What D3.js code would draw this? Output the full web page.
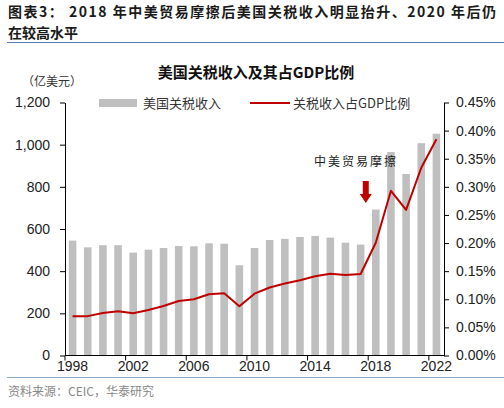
<!DOCTYPE html>
<html>
<head>
<meta charset="utf-8">
<script src="https://cdn.jsdelivr.net/npm/d3@7"></script>
<style>
  body { margin: 0; background: #fff; }
  svg { display: block; font-family: "Liberation Sans", Arial, "Noto Sans CJK SC", sans-serif; }
</style>
</head>
<body>
<svg width="504" height="408"></svg>
<script>
// data
var years = ["1998","1999","2000","2001","2002","2003","2004","2005","2006","2007","2008","2009","2010",
             "2011","2012","2013","2014","2015","2016","2017","2018","2019","2020","2021","2022"];
var tariff = [545, 513, 523, 523, 488, 502, 510, 519, 518, 532, 530, 428, 510,
              548, 553, 562, 567, 559, 535, 526, 692, 965, 861, 1007, 1052];
// share of GDP, in percent
var gdpShare = [0.070, 0.070, 0.0756, 0.0786, 0.075, 0.081, 0.088, 0.097, 0.100, 0.109, 0.1106, 0.0875, 0.110,
                0.121, 0.128, 0.134, 0.141, 0.1455, 0.143, 0.145, 0.2006, 0.293, 0.259, 0.334, 0.3845];
var yearLabels = ["1998","2002","2006","2010","2014","2018","2022"];
var leftTicks = [0, 200, 400, 600, 800, 1000, 1200];
var rightTicks = [0, 0.05, 0.10, 0.15, 0.20, 0.25, 0.30, 0.35, 0.40, 0.45];

var svg = d3.select("svg");
var cjk = "'Noto Sans CJK SC', sans-serif";

var plotL = 65, plotR = 444, plotT = 102.5, plotB = 355.5;

var x = d3.scaleBand()
  .domain(years)
  .range([plotL, plotR])
  .paddingInner(0.5)
  .paddingOuter(0.25);
var step = x.step();

var y = d3.scaleLinear().domain([0, 1200]).range([plotB, plotT]);
var y2 = d3.scaleLinear().domain([0, 0.45]).range([plotB, plotT]);

// header
svg.append("text")
  .attr("x", 8).attr("y", 16.5)
  .attr("font-family", cjk).attr("font-weight", "bold").attr("font-size", 14)
  .attr("fill", "#1a1a1a")
  .attr("textLength", 488).attr("lengthAdjust", "spacing")
  .text("图表3： 2018 年中美贸易摩擦后美国关税收入明显抬升、2020 年后仍");
svg.append("text")
  .attr("x", 8).attr("y", 37.5)
  .attr("font-family", cjk).attr("font-weight", "bold").attr("font-size", 14)
  .attr("fill", "#1a1a1a")
  .text("在较高水平");
svg.append("line")
  .attr("x1", 7).attr("x2", 504).attr("y1", 42.5).attr("y2", 42.5)
  .attr("stroke", "#5b7fb5").attr("stroke-width", 1);

// chart title
svg.append("text")
  .attr("x", 256).attr("y", 78)
  .attr("text-anchor", "middle")
  .attr("font-family", cjk).attr("font-weight", "bold").attr("font-size", 15)
  .attr("fill", "#111")
  .text("美国关税收入及其占GDP比例");

svg.append("text")
  .attr("x", 22).attr("y", 86)
  .attr("font-family", cjk).attr("font-size", 12)
  .attr("fill", "#333")
  .text("（亿美元）");

// bars
svg.append("g")
  .selectAll("rect")
  .data(years)
  .enter().append("rect")
  .attr("x", function(d) { return x(d); })
  .attr("y", function(d, i) { return y(tariff[i]); })
  .attr("width", x.bandwidth())
  .attr("height", function(d, i) { return plotB - y(tariff[i]); })
  .attr("fill", "#bfbfbf");

// line
var line = d3.line()
  .x(function(d, i) { return x(years[i]) + x.bandwidth() / 2; })
  .y(function(d) { return y2(d); });

svg.append("path")
  .datum(gdpShare)
  .attr("d", line)
  .attr("fill", "none")
  .attr("stroke", "#c00000")
  .attr("stroke-width", 2)
  .attr("stroke-linejoin", "round");

// left axis
var gl = svg.append("g")
  .attr("transform", "translate(" + plotL + ",0)")
  .call(d3.axisLeft(y).tickValues(leftTicks).tickSize(5).tickSizeOuter(0)
    .tickFormat(d3.format(",")));
gl.selectAll("text").attr("font-size", 14).attr("fill", "#222").attr("x", -15);

// right axis
var gr = svg.append("g")
  .attr("transform", "translate(" + plotR + ",0)")
  .call(d3.axisRight(y2).tickValues(rightTicks).tickSize(5).tickSizeOuter(0)
    .tickFormat(function(d) { return d.toFixed(2) + "%"; }));
gr.selectAll("text").attr("font-size", 14).attr("fill", "#222").attr("x", 12);

svg.selectAll(".domain").attr("stroke", "#000");
svg.selectAll(".tick line").attr("stroke", "#000");

// bottom axis
var gb = svg.append("g").attr("transform", "translate(0," + plotB + ")");
gb.append("line")
  .attr("x1", plotL).attr("x2", plotR)
  .attr("stroke", "#000");
gb.selectAll(".xt")
  .data(yearLabels)
  .enter().append("line")
  .attr("class", "xt")
  .attr("x1", function(d) { return x(d) - step * 0.25; })
  .attr("x2", function(d) { return x(d) - step * 0.25; })
  .attr("y1", 0).attr("y2", 5)
  .attr("stroke", "#000");
gb.selectAll(".xl")
  .data(yearLabels)
  .enter().append("text")
  .attr("class", "xl")
  .attr("x", function(d) { return x(d) + x.bandwidth() / 2; })
  .attr("y", 15)
  .attr("text-anchor", "middle")
  .attr("font-size", 14)
  .attr("fill", "#222")
  .text(function(d) { return d; });

// legend
svg.append("rect")
  .attr("x", 99).attr("y", 99).attr("width", 38).attr("height", 8)
  .attr("fill", "#bfbfbf");
svg.append("text")
  .attr("x", 143).attr("y", 108)
  .attr("font-family", cjk).attr("font-size", 13).attr("fill", "#333")
  .text("美国关税收入");
svg.append("line")
  .attr("x1", 250).attr("x2", 290).attr("y1", 103).attr("y2", 103)
  .attr("stroke", "#c00000").attr("stroke-width", 2);
svg.append("text")
  .attr("x", 293).attr("y", 108)
  .attr("font-family", cjk).attr("font-size", 13).attr("fill", "#333")
  .text("关税收入占GDP比例");

// annotation
svg.append("text")
  .attr("x", 356).attr("y", 166)
  .attr("text-anchor", "middle")
  .attr("font-family", cjk).attr("font-size", 12).attr("fill", "#222")
  .attr("letter-spacing", 2)
  .text("中美贸易摩擦");
var ax = x("2018") + x.bandwidth() / 2 - 10;
svg.append("path")
  .attr("d", "M" + (ax - 3) + ",181 L" + (ax + 3) + ",181 L" + (ax + 3) + ",194 L" + (ax + 6) + ",194 L" + ax + ",203 L" + (ax - 6) + ",194 L" + (ax - 3) + ",194 Z")
  .attr("fill", "#c00000");

// footer
svg.append("line")
  .attr("x1", 7).attr("x2", 504).attr("y1", 377.5).attr("y2", 377.5)
  .attr("stroke", "#8fa9cf").attr("stroke-width", 1);
svg.append("text")
  .attr("x", 8).attr("y", 396)
  .attr("font-family", cjk).attr("font-size", 12).attr("fill", "#888")
  .text("资料来源：CEIC，华泰研究");
</script>
</body>
</html>
